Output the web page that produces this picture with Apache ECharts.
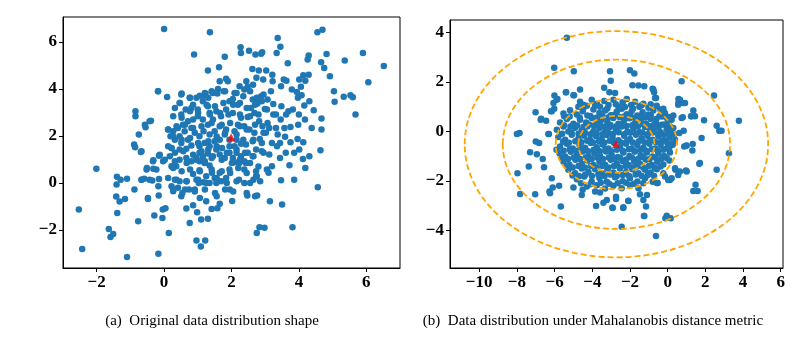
<!DOCTYPE html>
<html>
<head>
<meta charset="utf-8">
<script src="https://cdn.jsdelivr.net/npm/echarts@6/dist/echarts.min.js"></script>
<style>
  html, body { margin: 0; padding: 0; background: #fff; }
  #main { width: 801px; height: 340px; }
</style>
</head>
<body>
<div id="main"></div>
<script>
// (a) original data points
var pointsA = [
  [0,6.55],[1.36,6.41],[0.89,5.46],[1.80,5.37],[2.27,5.77],[2.28,5.53],[2.52,5.62],[2.71,5.46],
  [2.88,5.5],[2.91,5.56],[3.37,6.17],[3.45,5.79],[3.34,5.53],[3.67,5.09],[4.55,6.41],[4.7,6.52],
  [4.29,5.42],[4.26,5.25],[4.66,5.13],[4.75,4.89],[4.82,5.49],[4.92,4.54],[5.36,5.21],[5.9,5.53],
  [6.52,4.98],[6.06,4.28],[5.04,3.9],[5.06,3.45],[5.33,3.67],[5.53,3.73],[5.6,3.65],[5.68,2.91],
  [1.3,4.78],[1.63,4.92],[2.62,4.85],[2.81,4.78],[3.03,4.78],[3.21,4.6],[4.13,4.58],[4.29,4.6],
  [4.01,4.4],[-0.18,3.9],[0.09,3.66],[-0.85,3.05],[-0.85,2.84],[-0.39,2.65],[-0.55,2.37],[-0.75,2.06],
  [-0.89,1.63],[-0.86,1.52],[-0.69,1.32],[-2.01,0.6],[-1.4,0.26],[-1.29,0.14],[-1.1,0.18],[-1.41,-0.07],
  [-0.88,-0.28],[-0.67,0.14],[-0.59,0.18],[-0.51,0.64],[-0.32,0.96],[-0.32,0.6],[-0.15,1.16],[-0.03,0.92],
  [-0.35,0.1],[-0.15,0.17],[-0.17,-0.14],[-0.16,-0.54],[-0.48,-0.68],[-1.42,-0.58],[-1.32,-0.79],[-1.16,-0.68],
  [-1.39,-1.28],[-2.53,-1.13],[-1.64,-1.96],[-1.59,-2.3],[-1.51,-2.17],[-0.77,-1.63],[-0.29,-1.39],[-0.05,-1.49],
  [-0.04,-1.13],[0.04,-1.08],[0.14,-2.13],[-2.43,-2.81],[-1.1,-3.15],[-0.17,-3.01],[0.76,-1.7],[0.96,-2.45],
  [1.22,-2.45],[1.09,-2.7],[0.98,-1.25],[1.1,-1.56],[1.3,-1.52],[1.41,-1.11],[1.58,-1.08],[1.65,-0.89],
  [1.25,-0.78],[0.86,-0.95],[0.66,-1.09],[2.02,-0.77],[2.47,-0.54],[2.76,-0.54],[1.95,-0.28],[2.83,-1.89],
  [2.98,-1.91],[2.75,-2.13],[3.14,-0.78],[3.5,-0.92],[3.81,-1.89],[4.56,-0.18],[3.86,0.14],[3.47,0.11],
  [3.05,0.57],[3.1,0.43],[3.2,0.71],[2.73,0.5],[4.19,0.64],[4.31,1.13],[4.12,1.02],[4.64,1.39],
  [4.38,2.34],[4.67,2.27],[4.67,2.74],[4.44,3.09],[3.96,1.87],[4.13,1.73],[3.75,1.73],[3.59,1.96],
  [3.37,2.06],[3.61,1.28],[3.86,1.28],[3.44,1.06],[3.12,1.21],[3.72,0.75],[4.01,1.42],
  [3.79,3.97],[3.94,3.87],[3.97,3.62],[4.06,4.09],[4.19,4.35],[4.31,3.48],[4.16,3.29],[4.08,3.73],
  [3.82,3.12],[3.69,3.05],[4.0,2.91],[4.18,2.7],[3.98,2.48],[3.75,2.38],[3.57,2.34],[3.46,2.7],
  [3.32,2.91],[3.62,2.91],[3.48,3.26],[3.24,3.36],[3.07,3.55],[2.88,3.69],[2.73,3.57],[2.77,3.38],
  [2.58,3.19],[2.99,3.15],[3.17,3.9],[3.22,4.33],[3.55,4.4],[3.63,4.35],[3.47,4.11],[2.94,4.4],
  [2.74,4.47],[2.64,4.18],[2.44,4.33],[2.48,4.09],[2.38,3.97],[2.24,4.11],[2.09,3.83],[2.04,3.57],
  [1.94,3.48],[1.89,4.33],[1.77,3.9],[1.65,4.33],[1.6,4.0],[1.84,4.43],[1.45,3.83],[1.23,3.79],
  [1.15,3.48],[1.3,3.26],[1.2,3.72],[1.35,2.98],[1.55,3.05],[1.69,2.84],[1.84,3.12],[2.04,2.98],
  [2.19,3.33],[2.28,2.77],[2.48,2.81],[2.68,2.98],[2.82,2.62],[2.92,2.41],[3.12,2.34],[3.02,2.13],
  [2.84,1.87],[2.68,2.13],[2.53,2.27],[2.38,2.41],[2.19,2.48],[2.09,2.2],[2.15,1.84],[2.28,1.67],
  [2.43,1.63],[2.63,1.77],[2.73,1.42],[2.9,1.35],[2.63,1.13],[2.48,1.28],[2.28,1.13],[2.38,0.92],
  [2.23,0.85],[2.09,0.88],[2.43,0.85],[2.22,0.14],[2.38,0.0],[2.65,0.14],[1.94,0.57],[1.84,0.21],
  [1.69,0.07],[1.5,0.21],[1.65,0.43],[1.42,0.43],[1.25,0.28],[1.05,0.54],[0.86,0.38],[0.96,0.14],
  [1.17,0.03],[1.35,0.0],[1.55,0.0],[0.66,0.07],[0.46,0.07],[0.32,0.14],[0.22,-0.14],[0.41,-0.21],
  [0.54,-0.43],[0.27,-0.35],[0.74,-0.28],[0.91,-0.28],[1.03,0.0],[0.51,-0.57],[1.94,1.28],[1.8,1.06],
  [1.65,1.21],[1.94,1.56],[1.72,1.49],[1.55,1.42],[1.45,1.13],[1.3,1.25],[1.15,1.13],[1.05,1.28],
  [0.96,1.06],[1.05,0.92],[1.2,0.85],[1.35,0.74],[0.81,0.92],[0.66,1.06],[0.46,0.99],[0.36,0.71],
  [0.22,0.71],[0.17,1.13],[0.32,1.28],[0.46,1.42],[0.66,1.45],[0.81,1.59],[1.05,1.56],[1.2,1.7],
  [1.35,1.56],[1.5,1.77],[1.65,1.84],[1.8,2.06],[1.84,2.27],[1.65,2.41],[1.5,2.2],[1.35,2.06],
  [1.17,2.2],[1.05,1.99],[0.91,2.13],[0.81,2.34],[0.61,2.2],[0.46,1.99],[0.32,1.84],[0.19,1.99],
  [0.12,2.27],[0.27,2.2],[0.41,2.34],[0.56,2.48],[0.71,2.62],[0.86,2.7],[1.0,2.84],[1.15,2.7],
  [1.3,2.48],[1.45,2.7],[0.51,2.91],[0.32,3.19],[0.46,3.4],[0.51,3.76],[0.76,3.62],[0.96,3.62],
  [0.81,3.19],[1.0,3.12],[0.64,3.12],[0.12,1.56],[0.22,1.49],[0.51,1.7],[0.71,1.84],[1.94,1.84],
  [2.09,1.56],[2.15,1.28],[2.04,1.06],[2.38,0.57],[2.73,0.28],[3.35,1.56],[3.2,1.7],[3.44,1.7],
  [3.24,2.91],[3.07,2.55],[3.32,2.34],[2.63,3.55],
  [-0.18,3.90],[0.52,3.80],[0.77,3.62],[1.06,3.71],[1.21,3.83],[1.41,3.90],[1.31,3.62],[1.58,3.80],
  [1.81,3.90],[2.15,3.83],[2.35,3.69],[2.55,3.90],[2.75,3.62],[2.95,3.76],[0.47,3.40],[0.86,3.33],
  [1.26,3.33],[1.51,3.26],[1.76,3.40],[2.05,3.33],[2.25,3.40],[2.45,3.19],[2.70,3.33],[2.90,3.47],
  [3.05,3.12],[0.27,2.84],[0.52,2.77],[0.77,3.05],[1.01,2.98],[1.36,2.91],[1.66,2.98],[1.91,2.91],
  [2.25,2.91],[2.55,2.84],[2.80,2.91],[-0.43,2.62],[-0.57,2.48],[0.12,2.27],[0.37,2.41],[0.62,2.48],
  [0.86,2.34],[1.11,2.41],[1.41,2.55],[1.71,2.48],[1.96,2.55],[2.25,2.41],[2.45,2.27],[2.70,2.48],
  [2.95,2.13],[0.27,1.98],[0.52,1.84],[0.77,1.91],[1.01,1.70],[1.31,1.77],[1.56,1.98],[1.81,2.13],
  [2.15,2.06],[2.35,1.84],[2.65,1.84],[2.90,1.70],[-0.67,1.35],[-0.13,1.20],[0.22,1.49],[0.57,1.35],
  [0.86,1.20],[1.11,1.35],[1.31,1.42],[1.56,1.56],[1.86,1.28],[2.15,1.42],[2.40,1.28],[2.65,1.13],
  [2.95,1.28],[-0.33,0.92],[0.02,0.99],[0.32,0.92],[0.67,0.85],[0.96,0.99],[1.21,0.92],[1.41,1.06],
  [1.71,0.99],[2.01,0.85],[2.25,0.99],[2.55,0.85],[2.80,0.70],[-0.52,0.57],[-0.23,0.57],[0.27,0.64],
  [0.52,0.50],[0.77,0.57],[1.06,0.50],[1.41,0.57],[1.71,0.50],[1.96,0.42],[2.20,0.64],[2.45,0.42],
  [2.75,0.28],[-0.67,0.14],[-0.43,0.14],[0.12,0.21],[0.37,0.14],[0.67,0.07],[1.01,0.14],[1.26,0.0],
  [1.56,0.21],[1.86,0.0],[2.15,0.07],[2.55,0.0],[2.85,0.07],[0.27,-0.28],[0.62,-0.28],[0.91,-0.36],
  [1.21,-0.28],[1.51,-0.43],[1.81,-0.28],[2.05,-0.36],[2.45,-0.43],[2.70,-0.57],[-0.48,-0.64],[1.06,-0.64],
  [1.56,-0.57]
];
var meanA = [[1.99, 1.94]];

// (b) points under the Mahalanobis metric
var pointsB = [
  [-5.35,3.78],[-6.02,2.57],[-4.98,2.43],[-3.06,2.43],[-3.02,2.05],[-2.0,2.47],[-1.77,2.34],[-1.87,1.86],
  [-1.55,1.85],[-1.24,1.82],[-0.8,1.72],[-0.72,1.58],[-0.62,1.35],[-3.37,1.76],[-3.09,1.58],[-2.79,1.55],
  [-4.65,1.69],[-5.0,1.46],[-5.39,1.58],[-6.01,1.45],[-5.85,1.31],[-6.06,1.15],[-6.02,0.91],[-6.15,0.81],
  [-7.01,0.77],[-6.71,0.51],[-6.45,0.43],[-5.49,0.61],[-8.0,-0.11],[-7.86,-0.07],[-6.33,-0.11],[-7.0,-0.41],
  [-6.82,-0.47],[-7.3,-0.84],[-6.94,-0.92],[-6.63,-1.12],[-7.37,-1.42],[-6.56,-1.45],[-7.97,-1.69],[-6.15,-1.89],
  [-6.27,-2.43],[-6.24,-2.5],[-6.1,-2.27],[-7.83,-2.53],[-7.03,-2.54],[-5.76,-2.2],[-5.67,-3.04],[-5.0,-2.27],
  [-4.51,-2.36],[-4.56,-2.57],[-3.85,-2.43],[-3.59,-2.47],[-3.8,-3.01],[-3.41,-2.88],[-3.23,-2.77],[-2.93,-3.08],
  [-2.74,-2.64],[-2.74,-2.73],[-2.35,-3.07],[-2.08,-2.81],[-2.44,-3.85],[-1.15,-3.04],[-1.26,-3.42],[-0.62,-4.23],
  [-0.05,-3.41],[0.16,-3.51],[-0.12,-3.51],[-1.47,-2.54],[-1.1,-2.57],[-0.53,-2.09],[-0.14,-1.82],[0.12,-1.96],
  [0.41,-1.55],[0.65,-1.62],[1.01,-1.62],[1.36,-2.41],[1.59,-2.41],[1.48,-2.16],[1.71,-1.28],[1.8,-0.27],
  [1.01,-0.57],[0.88,-0.61],[1.33,-0.51],[1.31,-0.77],[0.85,0.03],[0.62,-0.07],[0.3,0.14],[0.74,0.54],
  [0.57,1.15],[0.8,1.15],[0.57,1.31],[0.92,1.15],[0.74,2.03],[1.36,0.84],[1.45,0.61],[1.24,0.61],
  [1.93,0.45],[2.46,1.45],[2.6,0.23],[2.74,0.03],[2.86,0.03],[2.6,-1.55],[3.25,-0.88],[3.78,0.43],
  [-0.18,0.77],[0.3,0.64],[-0.05,0.54],
  [-6.74,0.47],[-6.19,0.81],[-5.89,1.28],[-5.4,1.58],[-4.97,1.46],[-4.48,1.08],[-4.74,0.99],[-6.3,-0.11],
  [-0.76,1.69],[-0.67,1.35],[1.27,0.61],[0.8,0.57],[0.65,1.28],[0.56,1.08],[0.97,-0.58],[1.68,-1.31],
  [-1.24,-3.42],[-2.09,-2.8],[-2.36,-3.1],[-2.92,-3.1],[-1.29,-2.77],[-0.58,-2.09],[0.97,-1.58],[0.03,-1.96],
  [0.21,-1.89],[0.56,-1.76],[0.39,-1.49],
  [-4.65,1.20],[-4.29,1.04],[-4.03,1.28],[-3.76,1.12],[-3.59,0.99],[-3.37,1.23],[-3.14,1.07],[-2.88,1.28],
  [-2.61,1.01],[-2.39,1.18],[-2.17,1.31],[-1.94,1.07],[-1.73,1.20],[-1.5,0.99],[-1.29,1.12],[-1.02,0.95],
  [-0.58,1.04],[-0.23,0.91],
  [-5.53,0.72],[-5.18,0.85],[-4.82,0.68],[-4.51,0.81],[-4.26,0.64],[-3.94,0.88],[-3.62,0.74],[-3.32,0.84],
  [-3.02,0.65],[-2.7,0.80],[-2.44,0.91],[-2.17,0.69],[-1.91,0.82],[-1.61,0.64],[-1.33,0.77],[-1.02,0.68],
  [-0.76,0.84],[-0.44,0.61],[-0.14,0.72],[0.21,0.47],
  [-5.71,0.36],[-5.35,0.50],[-5.0,0.31],[-4.65,0.47],[-4.33,0.36],[-4.03,0.54],[-3.76,0.34],[-3.5,0.47],
  [-3.2,0.39],[-2.88,0.54],[-2.61,0.31],[-2.31,0.45],[-2.03,0.53],[-1.73,0.34],[-1.43,0.47],[-1.15,0.31],
  [-0.9,0.50],[-0.62,0.36],[-0.32,0.27],[0.04,0.36],
  [-5.88,0.07],[-5.53,0.20],[-5.27,-0.01],[-4.91,0.15],[-4.56,0.04],[-4.26,0.20],[-3.94,0.01],[-3.62,0.14],
  [-3.32,-0.01],[-3.06,0.18],[-2.74,0.07],[-2.44,0.20],[-2.14,0.0],[-1.82,0.12],[-1.5,-0.04],[-1.2,0.18],
  [-0.94,0.04],[-0.67,0.14],[-0.37,-0.04],[-0.05,0.09],[0.21,-0.07],
  [-5.8,-0.23],[-5.44,-0.34],[-5.09,-0.14],[-4.73,-0.28],[-4.43,-0.18],[-4.12,-0.34],[-3.8,-0.2],[-3.5,-0.31],
  [-3.23,-0.15],[-2.92,-0.27],[-2.61,-0.36],[-2.31,-0.18],[-2.0,-0.31],[-1.68,-0.14],[-1.38,-0.28],[-1.08,-0.18],
  [-0.8,-0.34],[-0.49,-0.2],[-0.19,-0.36],[0.09,-0.23],[0.39,-0.34],
  [-5.71,-0.61],[-5.35,-0.5],[-5.04,-0.69],[-4.68,-0.54],[-4.38,-0.66],[-4.08,-0.47],[-3.76,-0.64],[-3.45,-0.53],
  [-3.14,-0.69],[-2.84,-0.47],[-2.53,-0.64],[-2.21,-0.5],[-1.91,-0.69],[-1.61,-0.55],[-1.29,-0.66],[-0.97,-0.5],
  [-0.67,-0.69],[-0.37,-0.55],[-0.05,-0.68],[0.27,-0.54],
  [-5.74,-0.88],[-5.44,-1.01],[-5.14,-0.82],[-4.82,-0.96],[-4.51,-0.81],[-4.2,-1.01],[-3.89,-0.88],[-3.59,-0.99],
  [-3.27,-0.81],[-2.97,-0.95],[-2.65,-1.04],[-2.35,-0.85],[-2.03,-0.99],[-1.73,-0.81],[-1.43,-0.96],[-1.11,-0.85],
  [-0.81,-1.01],[-0.49,-0.88],[-0.19,-0.99],[0.12,-0.85],
  [-5.53,-1.22],[-5.21,-1.35],[-4.89,-1.15],[-4.56,-1.31],[-4.26,-1.18],[-3.94,-1.36],[-3.62,-1.23],[-3.32,-1.35],
  [-3.02,-1.15],[-2.7,-1.31],[-2.39,-1.2],[-2.08,-1.36],[-1.78,-1.23],[-1.47,-1.31],[-1.15,-1.15],[-0.85,-1.35],
  [-0.55,-1.23],[-0.23,-1.34],[0.09,-1.18],
  [-5.27,-1.55],[-4.91,-1.69],[-4.56,-1.5],[-4.2,-1.64],[-3.85,-1.53],[-3.5,-1.69],[-3.2,-1.55],[-2.88,-1.66],
  [-2.53,-1.5],[-2.21,-1.64],[-1.87,-1.53],[-1.55,-1.69],[-1.2,-1.55],[-0.9,-1.66],[-0.58,-1.53],[-0.23,-1.69],
  [-4.82,-1.93],[-4.43,-1.82],[-4.03,-2.03],[-3.62,-1.88],[-3.23,-2.04],[-2.79,-1.85],[-2.39,-2.01],[-2.0,-1.89],
  [-1.61,-2.03],[-1.2,-1.89],[-0.8,-2.04],
  [-4.29,-2.23],[-3.76,-2.18],[-3.32,-2.31],[-2.88,-2.2],[-2.44,-2.3],[-2.0,-2.18],[-1.55,-2.3],
  [-4.47,0.93],[-3.85,1.05],[-3.2,0.92],[-2.75,1.1],[-2.27,0.98],[-1.84,0.92],[-1.4,1.05],[-0.9,1.1],[-0.4,0.88],
  [-5.2,0.6],[-4.67,0.56],[-4.1,0.62],[-3.77,0.55],[-3.46,0.62],[-3.16,0.56],[-2.85,0.66],[-2.55,0.58],
  [-2.3,0.6],[-2.0,0.66],[-1.76,0.55],[-1.47,0.62],[-1.18,0.56],[-0.9,0.65],[-0.6,0.5],[-0.3,0.6],[0.05,0.58],
  [-5.5,0.25],[-5.16,0.2],[-4.8,0.24],[-4.47,0.18],[-4.17,0.28],[-3.9,0.22],[-3.6,0.3],[-3.33,0.2],
  [-3.04,0.26],[-2.74,0.2],[-2.47,0.3],[-2.18,0.22],[-1.88,0.25],[-1.58,0.2],[-1.3,0.3],[-1.02,0.22],
  [-0.76,0.25],[-0.48,0.18],[-0.18,0.28],[0.12,0.2],
  [-5.6,-0.1],[-5.1,-0.06],[-4.73,-0.1],[-4.4,-0.04],[-4.1,-0.12],[-3.78,-0.06],[-3.47,-0.12],[-3.17,-0.05],
  [-2.9,-0.1],[-2.6,-0.04],[-2.3,-0.12],[-1.98,-0.06],[-1.66,-0.1],[-1.35,-0.05],[-1.07,-0.12],[-0.8,-0.05],
  [-0.52,-0.1],[-0.22,-0.14],[0.05,-0.08],[0.35,-0.12],
  [-5.55,-0.42],[-5.24,-0.46],[-4.9,-0.4],[-4.58,-0.44],[-4.27,-0.38],[-3.96,-0.45],[-3.64,-0.4],[-3.36,-0.46],
  [-3.07,-0.38],[-2.46,-0.46],[-2.16,-0.4],[-1.85,-0.45],[-1.53,-0.4],[-1.22,-0.44],[-0.93,-0.38],[-0.62,-0.44],
  [-0.33,-0.4],[-0.02,-0.46],[0.3,-0.4],
  [-5.9,-0.74],[-5.52,-0.78],[-5.2,-0.72],[-4.85,-0.78],[-4.53,-0.72],[-4.22,-0.8],[-3.92,-0.74],[-3.6,-0.8],
  [-3.3,-0.72],[-3.0,-0.8],[-2.7,-0.74],[-2.38,-0.78],[-2.06,-0.72],[-1.76,-0.8],[-1.45,-0.74],[-1.14,-0.78],
  [-0.84,-0.72],[-0.52,-0.78],[-0.22,-0.74],[0.08,-0.68],
  [-5.6,-1.08],[-5.28,-1.12],[-4.97,-1.06],[-4.65,-1.12],[-4.35,-1.06],[-4.03,-1.12],[-3.73,-1.06],[-3.43,-1.12],
  [-3.12,-1.06],[-2.82,-1.12],[-2.52,-1.08],[-2.2,-1.14],[-1.9,-1.06],[-1.58,-1.12],[-1.28,-1.06],[-0.96,-1.12],
  [-0.66,-1.06],[-0.35,-1.12],[-0.05,-1.08],
  [-5.35,-1.4],[-5.04,-1.46],[-4.73,-1.4],[-4.4,-1.46],[-4.08,-1.4],[-3.77,-1.46],[-3.46,-1.4],[-3.15,-1.46],
  [-2.85,-1.4],[-2.54,-1.46],[-2.23,-1.4],[-1.92,-1.46],[-1.62,-1.42],[-1.3,-1.46],[-1.0,-1.4],[-0.7,-1.46],
  [-0.38,-1.42],
  [-5.05,-1.78],[-4.7,-1.8],[-4.37,-1.74],[-4.02,-1.8],[-3.68,-1.74],[-3.35,-1.8],[-3.05,-1.74],[-2.7,-1.8],
  [-2.38,-1.76],[-2.05,-1.8],[-1.7,-1.74],[-1.38,-1.8],[-1.05,-1.76],[-0.72,-1.8],
  [-4.6,-2.1],[-4.1,-2.14],[-3.55,-2.08],[-3.1,-2.12],[-2.65,-2.1],[-2.2,-2.08],[-1.8,-2.12],[-1.3,-2.1]
];
var meanB = [[-2.74, -0.51]];

// distance contours: centre x, centre y, half width, half height
var contours = [
  [-2.72, -0.52, 2.02, 1.15],
  [-2.72, -0.52, 3.22, 1.82],
  [-2.72, -0.52, 6.03, 3.42],
  [-2.72, -0.52, 8.05, 4.57]
];

var ticksAX = [-2, 0, 2, 4, 6];
var ticksAY = [-2, 0, 2, 4, 6];
var ticksBX = [-10, -8, -6, -4, -2, 0, 2, 4, 6];
var ticksBY = [-4, -2, 0, 2, 4];

var captionA = '(a)  Original data distribution shape';
var captionB = '(b)  Data distribution under Mahalanobis distance metric';

var myChart = echarts.init(document.getElementById('main'));

function minus(v) {
    return String(v).replace('-', '\u2212');
}

function makeAxis(idx, min, max, ticks) {
    return {
        gridIndex: idx,
        type: 'value',
        min: min,
        max: max,
        axisLine: { show: true, onZero: false, lineStyle: { color: '#000', width: 1 } },
        axisTick: { show: true, length: 4, customValues: ticks, lineStyle: { color: '#000' } },
        axisLabel: {
            customValues: ticks,
            formatter: minus,
            fontFamily: 'Liberation Serif',
            fontWeight: 'bold',
            fontSize: 17,
            color: '#000',
            margin: 6
        },
        splitLine: { show: false }
    };
}

function ellipseItem(params, api) {
    var c = api.coord([api.value(0), api.value(1)]);
    var s = api.size([api.value(2), api.value(3)]);
    return {
        type: 'ellipse',
        shape: { cx: c[0], cy: c[1], rx: s[0], ry: s[1] },
        style: { fill: 'none', stroke: '#ffa500', lineWidth: 1.8, lineDash: [6, 3] }
    };
}

myChart.setOption({
    backgroundColor: '#fff',
    animation: false,
    grid: [
        { left: 63, top: 17, width: 337, height: 251, show: true, borderColor: '#000', borderWidth: 1 },
        { left: 450, top: 20, width: 333, height: 248, show: true, borderColor: '#000', borderWidth: 1 }
    ],
    xAxis: [
        makeAxis(0, -3.0, 7.0, ticksAX),
        makeAxis(1, -11.55, 6.12, ticksBX)
    ],
    yAxis: [
        makeAxis(0, -3.62, 7.06, ticksAY),
        makeAxis(1, -5.52, 4.5, ticksBY)
    ],
    graphic: [
        { type: 'text', x: 212, y: 321, style: { text: captionA, fill: '#000', font: '15px "Liberation Serif"', textAlign: 'center', textVerticalAlign: 'middle' } },
        { type: 'text', x: 593, y: 321, style: { text: captionB, fill: '#000', font: '15px "Liberation Serif"', textAlign: 'center', textVerticalAlign: 'middle' } }
    ],
    series: [
        {
            type: 'scatter', xAxisIndex: 0, yAxisIndex: 0, data: pointsA,
            symbolSize: 6.5, itemStyle: { color: '#1f77b4', opacity: 1 }
        },
        {
            type: 'scatter', xAxisIndex: 0, yAxisIndex: 0, data: meanA,
            symbol: 'triangle', symbolSize: 8, itemStyle: { color: '#ff0000' }, z: 5
        },
        {
            type: 'scatter', xAxisIndex: 1, yAxisIndex: 1, data: pointsB,
            symbolSize: 6.5, itemStyle: { color: '#1f77b4', opacity: 1 }
        },
        {
            type: 'custom', xAxisIndex: 1, yAxisIndex: 1, data: contours,
            renderItem: ellipseItem, z: 3, silent: true
        },
        {
            type: 'scatter', xAxisIndex: 1, yAxisIndex: 1, data: meanB,
            symbol: 'triangle', symbolSize: 8, itemStyle: { color: '#ff0000' }, z: 5
        }
    ]
});
</script>
</body>
</html>
